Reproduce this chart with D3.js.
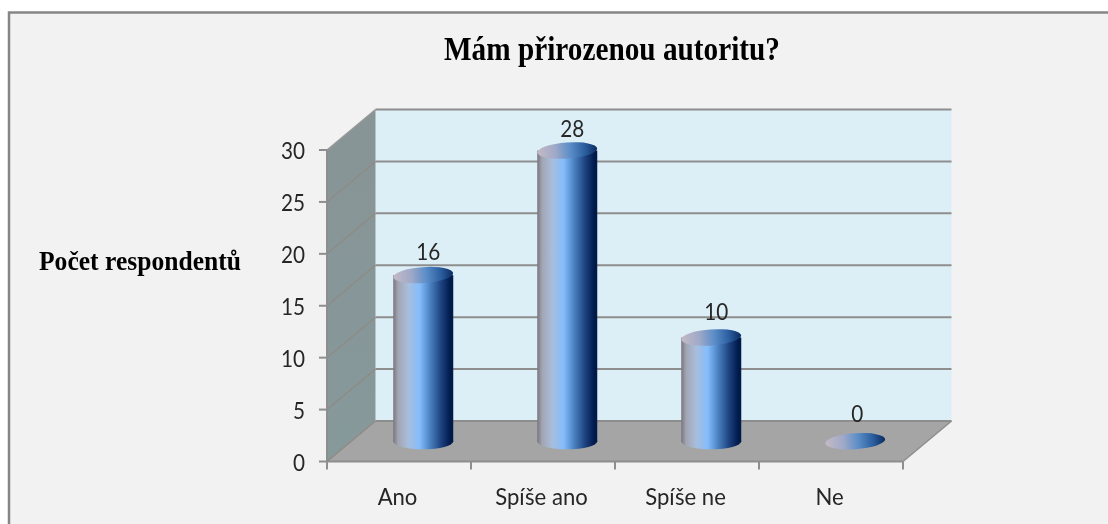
<!DOCTYPE html>
<html><head><meta charset="utf-8">
<script src="https://cdn.jsdelivr.net/npm/d3@7/dist/d3.min.js"></script>
<style>html,body{margin:0;padding:0;background:#fff}svg{display:block;filter:blur(0.4px)}</style>
</head><body><svg id="c" width="1108" height="524"></svg>
<script>
const categories = ["Ano","Spíše ano","Spíše ne","Ne"];
const values = [16,28,10,0];
const yTicks = [0,5,10,15,20,25,30];
const titleText = "Mám přirozenou autoritu?";
const yTitle = "Počet respondentů";

const svg = d3.select("#c");
const defs = svg.append("defs");
const x = d3.scaleBand().domain(categories).range([327,903]);
const y = d3.scaleLinear().domain([0,30]).range([461.5,150]);
const dx = 48.5, dy = -40.5, rx = 30, ry = 8, tilt = -4;

// gradients
const bodyGrad = defs.append("linearGradient").attr("id","body");
[[0,"#77757f"],[0.08,"#a3a5b2"],[0.25,"#a8bedd"],[0.44,"#84bdfd"],[0.6,"#4f86c6"],[0.8,"#1c427f"],[0.95,"#001a4c"],[1,"#001a4c"]]
 .forEach(s=>bodyGrad.append("stop").attr("offset",s[0]).attr("stop-color",s[1]));
const topGrad = defs.append("linearGradient").attr("id","capGrad");
[[0,"#c4bac6"],[0.3,"#9fa9c8"],[0.55,"#5b8dc8"],[0.8,"#2a5d9e"],[1,"#0a2a5e"]]
 .forEach(s=>topGrad.append("stop").attr("offset",s[0]).attr("stop-color",s[1]));
const sideGrad = defs.append("linearGradient").attr("id","side").attr("x1",0).attr("x2",0).attr("y1",0).attr("y2",1);
[[0,"#889496"],[1,"#86999b"]].forEach(s=>sideGrad.append("stop").attr("offset",s[0]).attr("stop-color",s[1]));

// frame
svg.append("rect").attr("x",9).attr("y",12.5).attr("width",1110).attr("height",530)
  .attr("fill","#f2f2f2").attr("stroke","#868686").attr("stroke-width",2.5);

const x0=x.range()[0], x1=x.range()[1], yb=y(0), yt=y(30);
const grid="#8e8e8e";
svg.append("rect").attr("x",x0+dx).attr("y",yt+dy).attr("width",x1-x0).attr("height",yb-yt).attr("fill","#dceef6");
svg.append("path").attr("d",d3.line()([[x0,yb],[x0,yt],[x0+dx,yt+dy],[x0+dx,yb+dy]])).attr("fill","url(#side)");
svg.append("path").attr("d",d3.line()([[x0,yb],[x0+dx,yb+dy],[x1+dx,yb+dy],[x1,yb]])+"Z").attr("fill","#a5a5a5");
// grid: thin on the side wall, heavier on the back wall
yTicks.forEach(t=>{
  const p=y(t);
  svg.append("line").attr("x1",x0).attr("y1",p).attr("x2",x0+dx).attr("y2",p+dy).attr("stroke",t===30?"#9a9a9a":"#8f8a84").attr("stroke-width",1.4);
  svg.append("line").attr("x1",x0+dx).attr("y1",p+dy).attr("x2",x1+dx).attr("y2",p+dy).attr("stroke",grid).attr("stroke-width",2);
});
svg.append("line").attr("x1",x1).attr("y1",yb).attr("x2",x1+dx).attr("y2",yb+dy).attr("stroke",grid).attr("stroke-width",1.5);
// axes
const axisG=svg.append("g").attr("stroke",grid).attr("stroke-width",2).attr("fill","none");
axisG.append("line").attr("x1",x0).attr("x2",x0).attr("y1",yt).attr("y2",yb);
axisG.append("line").attr("x1",x0).attr("x2",x1).attr("y1",yb).attr("y2",yb);
yTicks.forEach(t=>axisG.append("line").attr("x1",x0-8).attr("x2",x0).attr("y1",y(t)).attr("y2",y(t)));
[...categories.map(c=>x(c)),x1].forEach(v=>axisG.append("line").attr("x1",v).attr("x2",v).attr("y1",yb).attr("y2",yb+8));

const font="Lato,sans-serif", ink="#262626";
// narrow each label horizontally to imitate the reference's condensed face
const squeeze=(sel,f)=>sel.each(function(){
  d3.select(this).attr("textLength",this.getComputedTextLength()*f).attr("lengthAdjust","spacingAndGlyphs");
});
svg.selectAll(".yl").data(yTicks).join("text").attr("x",x0-22).attr("y",d=>y(d)+9)
  .attr("text-anchor","end").attr("font-family",font).attr("font-size",23).attr("fill",ink).text(d=>d)
  .call(squeeze,0.9);
svg.selectAll(".xl").data(categories).join("text").attr("x",d=>x(d)+x.bandwidth()/2-1.5).attr("y",505)
  .attr("text-anchor","middle").attr("font-family",font).attr("font-size",23).attr("fill",ink).text(d=>d)
  .call(squeeze,0.96);

// cylinders
const cx=c=>x(c)+x.bandwidth()/2+dx/2;
const ell=(g,cxv,cyv,fill)=>g.append("ellipse").attr("cx",cxv).attr("cy",cyv).attr("rx",rx).attr("ry",ry)
  .attr("transform",`rotate(${tilt} ${cxv} ${cyv})`).attr("fill",fill);
// value labels sit higher above the shorter cylinders in the reference
const labelLift=d3.scaleLinear().domain([0,10,16,28]).range([19,17.5,15,14]);
categories.forEach((c,i)=>{
  const g=svg.append("g"), v=values[i], cv=cx(c), by=y(0)+dy/2, ty=y(v)+dy/2;
  if(v>0){
    g.append("ellipse").attr("cx",cv).attr("cy",by).attr("rx",rx).attr("ry",ry).attr("fill","url(#body)");
    g.append("rect").attr("x",cv-rx).attr("y",ty).attr("width",2*rx).attr("height",by-ty).attr("fill","url(#body)");
  }
  ell(g,cv,ty,"url(#capGrad)");
  svg.append("text").attr("x",cv+(v===0?2:5)).attr("y",ty-labelLift(v)).attr("text-anchor","middle").attr("font-family",font)
    .attr("font-size",23).attr("fill",ink).text(v).call(squeeze,0.9);
});

svg.append("text").attr("x",444).attr("y",60).attr("textLength",336).attr("lengthAdjust","spacingAndGlyphs")
  .attr("font-family","'Liberation Serif',serif").attr("font-weight","bold").attr("font-size",33).attr("fill","#000").text(titleText);
svg.append("text").attr("x",39).attr("y",270).attr("textLength",202).attr("lengthAdjust","spacingAndGlyphs")
  .attr("font-family","'Liberation Serif',serif").attr("font-weight","bold").attr("font-size",28).attr("fill","#000").text(yTitle);
</script></body></html>
